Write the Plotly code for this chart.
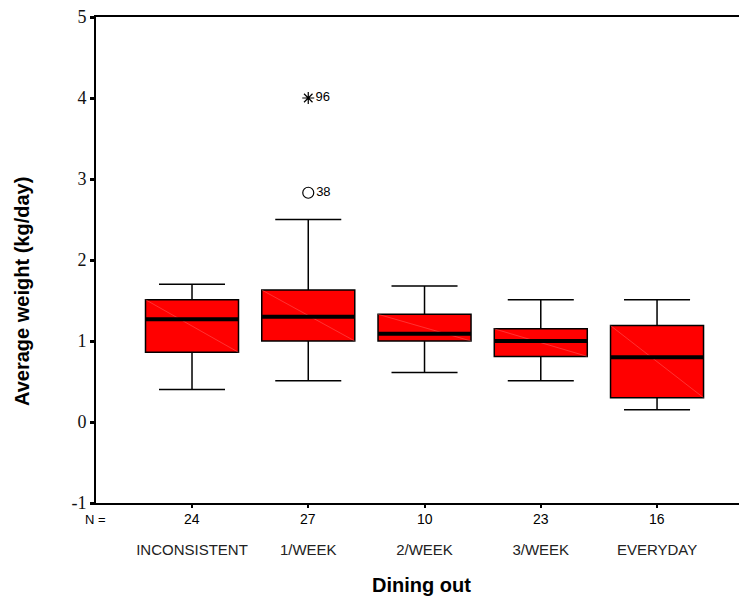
import plotly.graph_objects as go

categories = ["INCONSISTENT", "1/WEEK", "2/WEEK", "3/WEEK", "EVERYDAY"]
n_values = [24, 27, 10, 23, 16]
q1 = [0.86, 1.00, 1.00, 0.81, 0.30]
median = [1.27, 1.30, 1.09, 1.00, 0.80]
q3 = [1.51, 1.63, 1.33, 1.15, 1.19]
lower_fence = [0.40, 0.51, 0.61, 0.51, 0.15]
upper_fence = [1.70, 2.50, 1.68, 1.51, 1.51]

outlier_cat = [2]
outlier_val = [2.83]
outlier_id = ["38"]
extreme_cat = [2]
extreme_val = [4.0]
extreme_id = ["96"]

y_ticks = [-1, 0, 1, 2, 3, 4, 5]
y_tick_text = ["-1", "0", "1", "2", "3", "4", "5"]

positions = list(range(1, len(categories) + 1))
BOX_W = 0.8
half = BOX_W / 2

fig = go.Figure()

fig.add_trace(go.Box(
    x=positions, q1=q1, median=median, q3=q3,
    lowerfence=lower_fence, upperfence=upper_fence,
    width=BOX_W, whiskerwidth=0.71, boxpoints=False,
    fillcolor="#FF0000", line=dict(color="black", width=1.5),
    showlegend=False, hoverinfo="skip",
))

# faint diagonal artefact in each box
dx, dy = [], []
for p, a, b in zip(positions, q3, q1):
    dx += [p - half, p + half, None]
    dy += [a, b, None]
fig.add_trace(go.Scatter(x=dx, y=dy, mode="lines",
                         line=dict(color="rgba(255,140,140,0.6)", width=0.6),
                         showlegend=False, hoverinfo="skip"))

# thick median lines
mx, my = [], []
for p, m in zip(positions, median):
    mx += [p - half, p + half, None]
    my += [m, m, None]
fig.add_trace(go.Scatter(x=mx, y=my, mode="lines",
                         line=dict(color="black", width=4),
                         showlegend=False, hoverinfo="skip"))

fig.add_trace(go.Scatter(
    x=outlier_cat, y=outlier_val, mode="markers+text", text=outlier_id,
    textposition="middle right",
    textfont=dict(family="Liberation Sans", size=13, color="black"),
    marker=dict(symbol="circle-open", size=11, color="black", line=dict(width=1.2)),
    showlegend=False, hoverinfo="skip"))

fig.add_trace(go.Scatter(
    x=extreme_cat, y=extreme_val, mode="markers+text", text=extreme_id,
    textposition="middle right",
    textfont=dict(family="Liberation Sans", size=13, color="black"),
    marker=dict(symbol="asterisk-open", size=10, color="black", line=dict(width=1.2, color="black")),
    showlegend=False, hoverinfo="skip"))

# N row
fig.add_annotation(x=-1 / 643, xref="paper", y=-0.033, yref="paper", yanchor="middle", xanchor="center",
                   text="N =", showarrow=False,
                   font=dict(family="Liberation Sans", size=13, color="black"))
for p, n in zip(positions, n_values):
    fig.add_annotation(x=p, xref="x", y=-0.033, yref="paper", yanchor="middle",
                       text=str(n), showarrow=False,
                       font=dict(family="Liberation Sans", size=14, color="black"))

fig.add_annotation(x=(421 - 96) / 643, xref="paper", y=-(585 - 503) / 486, yref="paper",
                   yanchor="middle", text="<b>Dining out</b>", showarrow=False,
                   font=dict(family="Liberation Sans", size=20, color="black"))
fig.add_annotation(x=(22 - 96) / 643, xref="paper", y=(503 - 292) / 486, yref="paper",
                   xanchor="center", yanchor="middle", textangle=-90,
                   text="<b>Average weight (kg/day)</b>", showarrow=False,
                   font=dict(family="Liberation Sans", size=20, color="black"))

fig.update_layout(
    width=739, height=601,
    margin=dict(l=96, r=0, t=17, b=98),
    paper_bgcolor="white", plot_bgcolor="white",
    xaxis=dict(
        range=[0.1742, 5.705], tickmode="array", tickvals=positions, ticktext=categories,
        showgrid=False, zeroline=False, showline=True, linecolor="black", linewidth=2,
        mirror=True, ticks="outside", ticklen=3, tickwidth=2, tickcolor="black",
        ticklabelstandoff=29,
        tickfont=dict(family="Liberation Sans", size=15, color="#222"),
    ),
    yaxis=dict(
        range=[-1, 5], tickmode="array", tickvals=y_ticks, ticktext=y_tick_text,
        showgrid=False, zeroline=False, showline=True, linecolor="black", linewidth=2,
        ticks="outside", ticklen=4, tickwidth=3, tickcolor="black",
        tickfont=dict(family="Liberation Serif, Times New Roman, serif", size=18, color="#111"),
    ),
)

fig.write_html("out.html", config={"displayModeBar": False},
               post_script="document.body.style.margin='0';document.body.style.overflow='hidden';")
